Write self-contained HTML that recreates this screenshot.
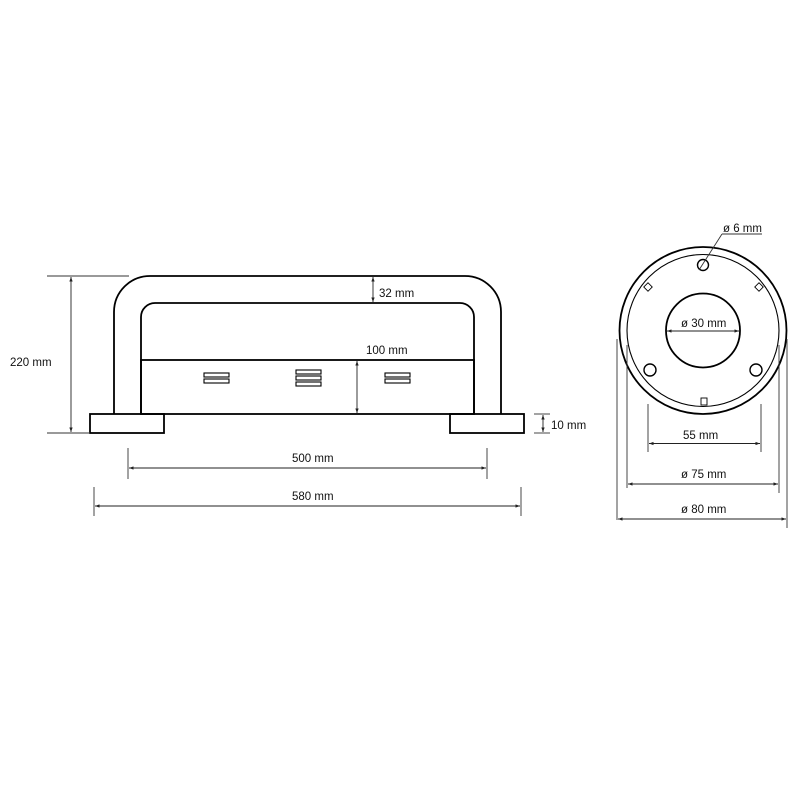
<!DOCTYPE html>
<html><head><meta charset="utf-8"><style>
html,body{margin:0;padding:0;background:#fff}
svg{display:block}
text{font-family:"Liberation Sans",sans-serif;font-size:11.5px;fill:#111}
</style></head><body>
<svg width="800" height="800" viewBox="0 0 800 800" xmlns="http://www.w3.org/2000/svg">
<defs>
<marker id="a" viewBox="0 0 6 6" refX="6" refY="3" markerWidth="5" markerHeight="5" orient="auto-start-reverse"><path d="M0,0.8 L6,3 L0,5.2z" fill="#222"/></marker>
</defs>
<g fill="none" stroke="#000" stroke-width="1.8">
<path d="M114,414 V312 A36,36 0 0 1 150,276 H465 A36,36 0 0 1 501,312 V414"/>
<path d="M141,414 V317 A14,14 0 0 1 155,303 H460 A14,14 0 0 1 474,317 V414"/>
<rect x="141" y="360" width="333" height="54"/>
<rect x="90" y="414" width="74" height="19"/>
<rect x="450" y="414" width="74" height="19"/>
<circle cx="703" cy="330.5" r="83.5"/>
<circle cx="703" cy="330.5" r="37"/>
</g>
<g fill="none" stroke="#000" stroke-width="1.1">
<circle cx="703" cy="330.5" r="76"/>
<rect x="204" y="373" width="25" height="4"/><rect x="204" y="379" width="25" height="4"/>
<rect x="296" y="370" width="25" height="4"/><rect x="296" y="376" width="25" height="4"/><rect x="296" y="382" width="25" height="4"/>
<rect x="385" y="373" width="25" height="4"/><rect x="385" y="379" width="25" height="4"/>
</g>
<g fill="none" stroke="#000" stroke-width="1.4">
<circle cx="703" cy="265" r="5.5"/>
<circle cx="650" cy="370" r="6"/>
<circle cx="756" cy="370" r="6"/>
</g>
<g fill="#fff" stroke="#000" stroke-width="0.9">
<rect x="645" y="284" width="6" height="6" transform="rotate(45 648 287)"/>
<rect x="756" y="284" width="6" height="6" transform="rotate(45 759 287)"/>
<rect x="701" y="398" width="6" height="7"/>
</g>
<g stroke="#333" stroke-width="0.9" fill="none">
<line x1="47" y1="276" x2="129" y2="276"/>
<line x1="47" y1="433" x2="90" y2="433"/>
<line x1="534" y1="414" x2="550" y2="414"/>
<line x1="534" y1="433" x2="550" y2="433"/>
<line x1="128" y1="448" x2="128" y2="479"/>
<line x1="487" y1="448" x2="487" y2="479"/>
<line x1="94" y1="487" x2="94" y2="516"/>
<line x1="521" y1="487" x2="521" y2="516"/>
<line x1="648" y1="404" x2="648" y2="452"/>
<line x1="761" y1="404" x2="761" y2="452"/>
<line x1="627" y1="345" x2="627" y2="488"/>
<line x1="779" y1="345" x2="779" y2="493"/>
<line x1="617" y1="339" x2="617" y2="520"/>
<line x1="787" y1="339" x2="787" y2="528"/>
<line x1="722" y1="234" x2="762" y2="234"/>
<line x1="699" y1="270" x2="722" y2="234"/>
</g>
<g stroke="#222" stroke-width="0.9" fill="none" marker-start="url(#a)" marker-end="url(#a)">
<line x1="71" y1="277" x2="71" y2="432"/>
<line x1="373" y1="277" x2="373" y2="302"/>
<line x1="357" y1="361" x2="357" y2="413"/>
<line x1="543" y1="415" x2="543" y2="432"/>
<line x1="129" y1="468" x2="486" y2="468"/>
<line x1="95" y1="506" x2="520" y2="506"/>
<line x1="649" y1="443.5" x2="760" y2="443.5"/>
<line x1="628" y1="484" x2="778" y2="484"/>
<line x1="618" y1="519" x2="786" y2="519"/>
<line x1="667" y1="331" x2="739" y2="331"/>
</g>
<text x="10" y="366">220 mm</text>
<text x="379" y="297">32 mm</text>
<text x="366" y="354">100 mm</text>
<text x="551" y="429">10 mm</text>
<text x="292" y="462">500 mm</text>
<text x="292" y="500">580 mm</text>
<text x="683" y="439">55 mm</text>
<text x="681" y="478">ø 75 mm</text>
<text x="681" y="513">ø 80 mm</text>
<text x="681" y="327">ø 30 mm</text>
<text x="723" y="232">ø 6 mm</text>
</svg>
</body></html>
